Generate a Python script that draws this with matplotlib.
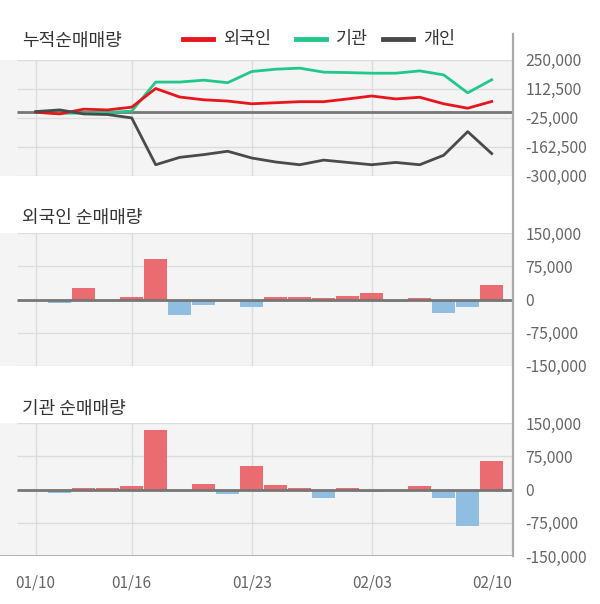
import matplotlib
matplotlib.use('Agg')
import matplotlib.pyplot as plt
from matplotlib.lines import Line2D

plt.rcParams['font.family'] = ['Noto Sans CJK KR', 'DejaVu Sans']

# ---------------- data ----------------
dates = ['01/10', '01/13', '01/14', '01/15', '01/16', '01/17', '01/20', '01/21',
         '01/22', '01/23', '01/28', '01/29', '01/30', '01/31', '02/03', '02/04',
         '02/05', '02/06', '02/07', '02/10']
tick_dates = ['01/10', '01/16', '01/23', '02/03', '02/10']

cum_foreign = [0, -8000, 14500, 11000, 24000, 112500, 72000, 59000, 53000, 40000,
               45000, 50000, 50000, 63000, 77000, 63000, 71000, 40000, 19000, 51000]
cum_inst = [0, -5000, -4000, -1000, 5000, 143000, 143000, 152000, 140000, 193000,
            204000, 209000, 190000, 188000, 185000, 185000, 196000, 177000, 92000, 154000]
cum_indiv = [3000, 11000, -8000, -11000, -27000, -249000, -214000, -201000, -185000, -217000,
             -236000, -249000, -227000, -238000, -249000, -238000, -249000, -204000, -92000, -196000]

net_foreign = [0, -7000, 27000, 0, 6500, 91000, -35000, -13500, 0, -18000,
               6000, 6000, 4000, 8500, 15000, -6500, 4000, -30000, -18000, 33000]
net_inst = [0, -6800, 3800, 3800, 8400, 135500, 0, 13000, -10000, 54000,
            10600, 3800, -18000, 3800, -5500, 0, 8400, -18000, -82000, 65000]

top_ticks = [250000, 112500, -25000, -162500, -300000]
bar_ticks = [150000, 75000, 0, -75000, -150000]

# ---------------- style ----------------
W, H = 600, 604
BG = '#f4f4f4'
GRID = '#dcdcdc'
ZERO = '#767676'
AXIS = '#aaaaaa'
TXT = '#666666'
RED_LINE = '#e8151c'
GREEN_LINE = '#22c78b'
GRAY_LINE = '#4a4a4a'
RED_BAR = '#ea6c70'
BLUE_BAR = '#90bee0'

fig = plt.figure(figsize=(W / 100, H / 100), dpi=100)

x = list(range(len(dates)))
step = 24.0
x0px = 35.7
right_px = 512.7
xl = -x0px / step
xr = (right_px - x0px) / step
gstart = (17 - x0px) / step
vgrid_idx = [dates.index(d) for d in tick_dates[:-1]]


def make_ax(top, bottom, ylim, ticks):
    ax = fig.add_axes([0, 1 - bottom / H, right_px / W, (bottom - top) / H])
    ax.set_facecolor(BG)
    for s in ax.spines.values():
        s.set_visible(False)
    ax.set_xlim(xl, xr)
    ax.set_ylim(*ylim)
    for t in ticks:
        if t != 0:
            ax.hlines(t, gstart, xr, color=GRID, lw=1, zorder=1)
    for i in vgrid_idx:
        ax.axvline(i, color=GRID, lw=1, zorder=1)
    ax.yaxis.tick_right()
    ax.set_yticks(ticks)
    ax.set_yticklabels([f'{t:,}' for t in ticks])
    ax.tick_params(axis='y', length=0, pad=9, labelsize=11.3, labelcolor=TXT)
    for lab in ax.get_yticklabels():
        lab.set_horizontalalignment('left')
    ax.set_xticks([])
    return ax


# top panel: cumulative
ax1 = make_ax(59.5, 175.5, (-300000, 250000), top_ticks)
ax1.hlines(0, gstart, xr, color=ZERO, lw=2, zorder=2)
ax1.plot(x, cum_inst, color=GREEN_LINE, lw=2, zorder=3, solid_joinstyle='round')
ax1.plot(x, cum_foreign, color=RED_LINE, lw=2, zorder=4, solid_joinstyle='round')
ax1.plot(x, cum_indiv, color=GRAY_LINE, lw=2, zorder=5, solid_joinstyle='round')

# foreigner bars
ax2 = make_ax(233.3, 365.7, (-150000, 150000), bar_ticks)
ax2.bar(x, net_foreign, width=0.96,
        color=[RED_BAR if v >= 0 else BLUE_BAR for v in net_foreign], zorder=3)
ax2.hlines(0, gstart, xr, color=ZERO, lw=2, zorder=4)

# institution bars
ax3 = make_ax(423.3, 556.0, (-150000, 150000), bar_ticks)
ax3.bar(x, net_inst, width=0.96,
        color=[RED_BAR if v >= 0 else BLUE_BAR for v in net_inst], zorder=3)
ax3.hlines(0, gstart, xr, color=ZERO, lw=2, zorder=4)
ax3.set_xticks([dates.index(d) for d in tick_dates])
ax3.set_xticklabels(tick_dates)
ax3.tick_params(axis='x', length=0, pad=13, labelsize=11, labelcolor=TXT)
ax3.axhline(-150000, color=AXIS, lw=2, zorder=5)

# right axis line
fig.add_artist(Line2D([right_px / W, right_px / W], [1 - 34 / H, 1 - 556 / H],
                      color=AXIS, lw=1.6, transform=fig.transFigure))

# titles
fig.text(22 / W, 1 - 41 / H, '누적순매매량', fontsize=13, color='#333333', va='center', ha='left')
fig.text(22 / W, 1 - 218 / H, '외국인 순매매량', fontsize=13, color='#333333', va='center', ha='left')
fig.text(22 / W, 1 - 409 / H, '기관 순매매량', fontsize=13, color='#333333', va='center', ha='left')

# legend
legend_items = [(183, '외국인', RED_LINE), (296, '기관', GREEN_LINE), (383, '개인', GRAY_LINE)]
ly = 1 - 39 / H
for xp, label, c in legend_items:
    fig.add_artist(Line2D([xp / W, (xp + 30) / W], [ly, ly], color=c, lw=3.5,
                          transform=fig.transFigure))
    fig.text((xp + 40) / W, 1 - 39 / H, label, fontsize=12.5, color='#333333',
             va='center', ha='left')

fig.savefig('out.png', dpi=100)
